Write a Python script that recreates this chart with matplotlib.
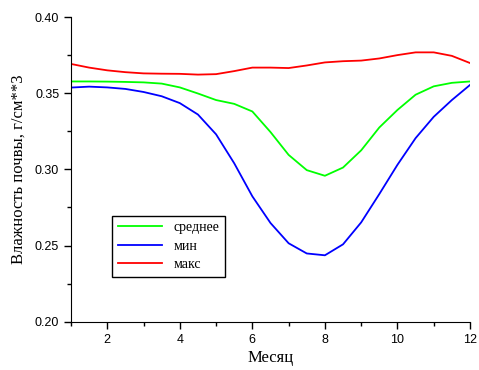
import matplotlib.pyplot as plt
from matplotlib.ticker import MultipleLocator

# Month axis (every half month)
months = [1, 1.5, 2, 2.5, 3, 3.5, 4, 4.5, 5, 5.5, 6, 6.5, 7, 7.5, 8, 8.5,
          9, 9.5, 10, 10.5, 11, 11.5, 12]

# soil moisture, g/cm**3
mean_vals = [0.3577, 0.3577, 0.3576, 0.3574, 0.3571, 0.3563, 0.3538, 0.3498,
             0.3455, 0.3430, 0.3380, 0.3245, 0.3095, 0.2995, 0.2958, 0.3012,
             0.3125, 0.3275, 0.3390, 0.3490, 0.3545, 0.3568, 0.3577]
min_vals = [0.3537, 0.3543, 0.3538, 0.3528, 0.3508, 0.3480, 0.3435, 0.3360,
            0.3230, 0.3040, 0.2823, 0.2648, 0.2515, 0.2448, 0.2436, 0.2508,
            0.2652, 0.2838, 0.3030, 0.3205, 0.3345, 0.3455, 0.3554]
max_vals = [0.3692, 0.3668, 0.3650, 0.3638, 0.3630, 0.3628, 0.3627, 0.3622,
            0.3625, 0.3645, 0.3668, 0.3668, 0.3665, 0.3682, 0.3702, 0.3710,
            0.3714, 0.3728, 0.3750, 0.3768, 0.3768, 0.3745, 0.3698]

labels = ['среднее', 'мин', 'макс']
colors = ['#00FF00', '#0000FF', '#FF0000']

fig = plt.figure(figsize=(4.79, 3.70), dpi=100)
ax = fig.add_axes([0.1482, 0.1305, 0.833, 0.8235])

for vals, lab, col in zip([mean_vals, min_vals, max_vals], labels, colors):
    ax.plot(months, vals, color=col, linewidth=1.3, label=lab,
            solid_joinstyle='round')

ax.set_xlim(1, 12)
ax.set_ylim(0.20, 0.40)
ax.xaxis.set_major_locator(MultipleLocator(2))
ax.xaxis.set_minor_locator(MultipleLocator(1))
ax.yaxis.set_major_locator(MultipleLocator(0.05))
ax.yaxis.set_minor_locator(MultipleLocator(0.025))
ax.yaxis.set_major_formatter(plt.FuncFormatter(lambda v, p: '%.2f' % v))

for side in ['top', 'right']:
    ax.spines[side].set_visible(False)
ax.tick_params(which='major', direction='out', length=5, width=1,
               labelsize=9)
ax.tick_params(which='minor', direction='out', length=3, width=1)
for t in ax.get_xticklabels() + ax.get_yticklabels():
    t.set_family('Liberation Sans')

ax.set_xlabel('Месяц', family='Liberation Serif', fontsize=12, labelpad=3)
ax.set_ylabel('Влажность почвы, г/см**3', family='Liberation Serif',
              fontsize=12, labelpad=6)

leg = ax.legend(loc='upper left', bbox_to_anchor=(0.1035, 0.348),
                prop={'family': 'Liberation Serif', 'size': 10},
                frameon=True, fancybox=False, edgecolor='black',
                framealpha=1, handlelength=3.2, borderaxespad=0,
                labelspacing=0.4)
leg.get_frame().set_linewidth(1.0)

fig.savefig('out.png', dpi=100)
